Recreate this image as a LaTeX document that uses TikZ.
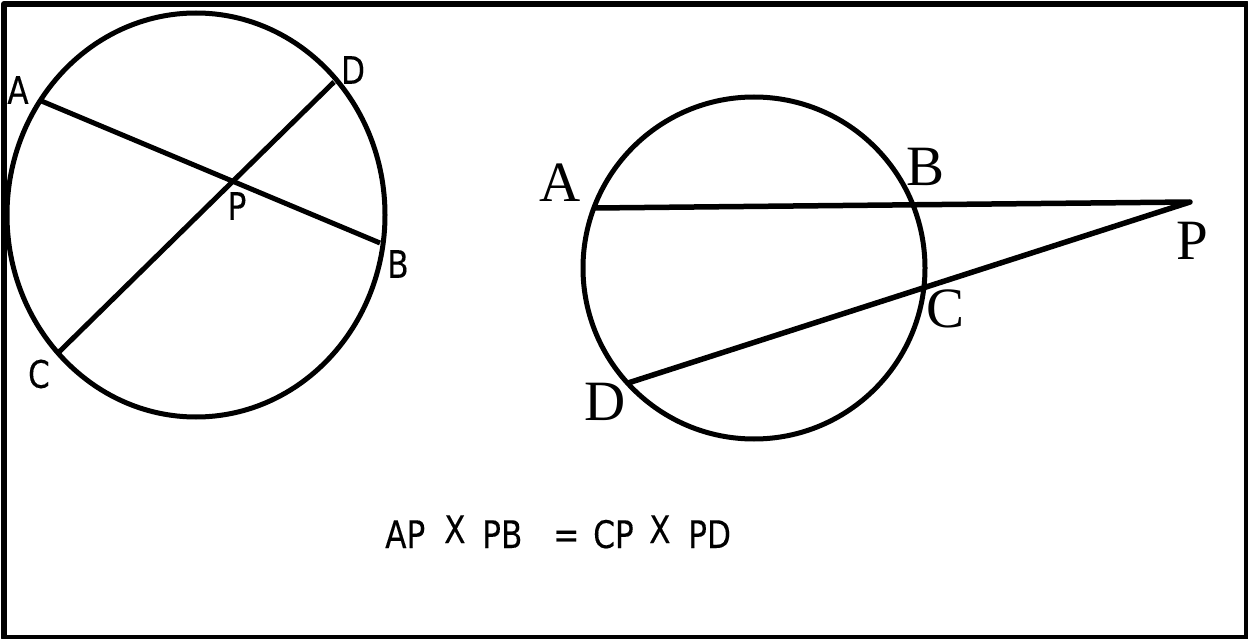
\documentclass[tikz,border=0pt]{standalone}
\usepackage{fontspec}
\usepackage{graphicx}
\usepackage{tikz}
\newfontfamily\sanslbl[FakeBold=0.2]{DejaVu Sans}
\newfontfamily\seriflbl{Liberation Serif}
\newcommand{\narrowtxt}[1]{\scalebox{0.82}[1]{#1}}

\begin{document}
\begin{tikzpicture}[
  x=1pt,y=-1pt,
  line join=round,
  frame/.style={draw,line width=6pt},
  circ/.style={draw,line width=5pt},
  chord/.style={line width=5pt},
  sanstxt/.style={inner sep=0pt,font=\sanslbl\fontsize{38}{40}\selectfont},
  seriftxt/.style={inner sep=0pt,font=\seriflbl\fontsize{57}{60}\selectfont}
]
\useasboundingbox (0,0) rectangle (1248,639);
\draw[frame] (4,4) rectangle (1247,638);

% intersecting chords
\draw[circ] (196,215) ellipse [x radius=189,y radius=202];
\coordinate (lA) at (39,100);
\coordinate (lB) at (380,243);
\coordinate (lC) at (59,352);
\coordinate (lD) at (334,82);
\draw[chord] (lA) -- (lB);
\draw[chord] (lC) -- (lD);
\node[sanstxt] (lblA1) at (18,90) {\narrowtxt{A}};
\node[sanstxt] (lblD1) at (353,70) {\narrowtxt{D}};
\node[sanstxt] (lblP1) at (237,206) {\narrowtxt{P}};
\node[sanstxt] (lblB1) at (398,264) {\narrowtxt{B}};
\node[sanstxt] (lblC1) at (39,374) {\narrowtxt{C}};

% secants from outside
\draw[circ] (754,268) circle [radius=171];
\coordinate (rA) at (595,208);
\coordinate (rP) at (1190,202);
\coordinate (rD) at (628,383);
\draw[chord,line width=5.5pt] (rA) -- (rP) -- (rD);
\node[seriftxt] (lblA2) at (560,183) {A};
\node[seriftxt] (lblB2) at (925,167) {B};
\node[seriftxt] (lblP2) at (1192,241) {P};
\node[seriftxt] (lblC2) at (945,309) {C};
\node[seriftxt] (lblD2) at (605,402) {D};

% the product rule
\foreach \xpos/\tok/\lift [count=\i] in
  {385/AP/0, 444/X/5, 482/PB/0, 553/=/0, 593/CP/0, 649/X/5, 688/PD/0}
  \node[sanstxt,anchor=base west] (eq\i) at (\xpos,548-\lift) {\narrowtxt{\tok}};
\end{tikzpicture}
\end{document}
